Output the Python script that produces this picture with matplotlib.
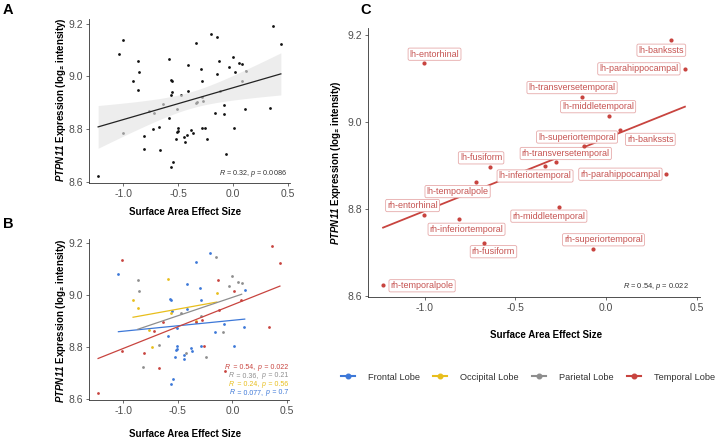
import numpy as np
import matplotlib
matplotlib.use('Agg')
import matplotlib.pyplot as plt
from matplotlib.lines import Line2D
from matplotlib.offsetbox import TextArea, HPacker, AnnotationBbox

plt.rcParams['font.family'] = ['Liberation Sans', 'DejaVu Sans']
plt.rcParams['mathtext.fontset'] = 'custom'
plt.rcParams['mathtext.rm'] = 'Liberation Sans'
plt.rcParams['mathtext.it'] = 'Liberation Sans:italic'
plt.rcParams['mathtext.bf'] = 'Liberation Sans:bold'
plt.rcParams['mathtext.bfit'] = 'Liberation Sans:bold:italic'

# ---------------- data ----------------
temporal_names = ['lh-bankssts', 'lh-entorhinal', 'lh-parahippocampal', 'lh-transversetemporal',
                  'lh-middletemporal', 'rh-bankssts', 'lh-superiortemporal', 'rh-transversetemporal',
                  'lh-inferiortemporal', 'lh-fusiform', 'lh-temporalpole', 'rh-parahippocampal',
                  'rh-entorhinal', 'rh-middletemporal', 'rh-inferiortemporal', 'rh-fusiform',
                  'rh-superiortemporal', 'rh-temporalpole']
temporal_x = [0.360, -1.006, 0.435, -0.132, 0.017, 0.079, -0.121, -0.277, -0.336, -0.639,
              -0.719, 0.333, -1.006, -0.260, -0.813, -0.670, -0.069, -1.229]
temporal_y = [9.189, 9.136, 9.123, 9.059, 9.015, 8.981, 8.945, 8.907, 8.899, 8.897,
              8.863, 8.880, 8.787, 8.804, 8.776, 8.722, 8.708, 8.625]

frontal_x = [-0.204, -0.335, -1.043, -0.412, -0.296, 0.113, -0.567, -0.558, -0.284, -0.415,
             -0.555, -0.509, -0.588, -0.506, -0.503, -0.515, -0.521, -0.381, -0.369, -0.445,
             -0.439, -0.546, -0.561, -0.162, -0.079, 0.110, -0.284, 0.012]
frontal_y = [9.162, 9.127, 9.083, 9.045, 9.027, 9.019, 8.987, 8.981, 8.983, 8.946,
             8.940, 8.876, 8.844, 8.806, 8.795, 8.791, 8.764, 8.796, 8.785, 8.771,
             8.753, 8.677, 8.659, 8.860, 8.890, 8.877, 8.803, 8.804]

occipital_x = [-0.588, -0.143, -0.909, -0.863, -0.564, -0.332, -0.765, -0.732]
occipital_y = [9.064, 9.009, 8.982, 8.950, 8.931, 8.903, 8.868, 8.800]

parietal_x = [-0.149, 0.000, -0.866, 0.055, 0.085, -0.854, -0.034, -0.470, -0.284, -0.674,
              -0.421, -0.814, -0.082, -0.241]
parietal_y = [9.149, 9.073, 9.058, 9.050, 9.047, 9.018, 9.036, 8.931, 8.922, 8.810,
              8.777, 8.724, 8.858, 8.764]

lobe_names = ['Frontal Lobe', 'Occipital Lobe', 'Parietal Lobe', 'Temporal Lobe']
stats_text = {'Temporal Lobe': ('0.54', '0.022'), 'Parietal Lobe': ('0.36', '0.21'),
              'Occipital Lobe': ('0.24', '0.56'), 'Frontal Lobe': ('0.077', '0.7')}
overall_stats = ('0.32', '0.0086')
x_ticks = [-1.0, -0.5, 0.0, 0.5]
y_ticks = [8.6, 8.8, 9.0, 9.2]

# ---------------- style ----------------
colors = {'Frontal Lobe': '#3D78D8', 'Occipital Lobe': '#E8BE1C',
          'Parietal Lobe': '#8E8E8E', 'Temporal Lobe': '#C8443F'}
lobe_data = {'Frontal Lobe': (frontal_x, frontal_y), 'Occipital Lobe': (occipital_x, occipital_y),
             'Parietal Lobe': (parietal_x, parietal_y), 'Temporal Lobe': (temporal_x, temporal_y)}
# ggrepel-like label offsets in pixels (dx right, dy down)
label_offsets = [(-10, 10), (11, -9), (-46, 0), (-10, -9), (-11, -9), (30, 9), (-7, -9), (10, -9),
                 (-10, 10), (-9, -9), (-18, 10), (-46, 0), (-11, -9), (-10, 9), (8, 10), (9, 9),
                 (10, -9), (39, 1)]

W, H = 720, 440
fig = plt.figure(figsize=(7.2, 4.4), dpi=100)


def px_axes(l, t, r, b):
    return fig.add_axes([l / W, 1 - b / H, (r - l) / W, (b - t) / H])


all_x = np.concatenate([np.array(v[0]) for v in lobe_data.values()])
all_y = np.concatenate([np.array(v[1]) for v in lobe_data.values()])
xr = all_x.max() - all_x.min()
yr = all_y.max() - all_y.min()
xlim = (all_x.min() - 0.05 * xr, all_x.max() + 0.05 * xr)
ylim = (all_y.min() - 0.05 * yr, all_y.max() + 0.05 * yr)

TICKC = '#4D4D4D'


def style(ax):
    for s in ['top', 'right']:
        ax.spines[s].set_visible(False)
    for s in ['left', 'bottom']:
        ax.spines[s].set_color('#333333')
        ax.spines[s].set_linewidth(0.6)
    ax.tick_params(length=2.5, width=0.5, color='#333333', labelsize=7.5,
                   labelcolor=TICKC, pad=2)
    ax.set_xlim(xlim)
    ax.set_ylim(ylim)
    ax.set_xticks(x_ticks)
    ax.set_xticklabels(['%.1f' % v for v in x_ticks])
    ax.set_yticks(y_ticks)
    ax.set_yticklabels(['%.1f' % v for v in y_ticks])


def fit(x, y):
    x = np.asarray(x); y = np.asarray(y)
    b, a = np.polyfit(x, y, 1)
    return a, b


def stat_box(r, p, color, size):
    tp = dict(fontsize=size, color=color)
    tpi = dict(fontsize=size, color=color, style='italic')
    parts = [TextArea('R', textprops=tpi), TextArea('\u2009= %s,\u2009' % r, textprops=tp),
             TextArea('p', textprops=tpi), TextArea('\u2009= %s' % p, textprops=tp)]
    return HPacker(children=parts, align='baseline', pad=0, sep=1)


axA = px_axes(89, 19, 290, 183)
axB = px_axes(89, 239, 289, 400)
axC = px_axes(368, 28, 700, 297)
for ax in (axA, axB, axC):
    style(ax)

# ---- Panel A ----
axA.scatter(all_x, all_y, s=4, color='#111111', linewidths=0, zorder=2)
a, b = fit(all_x, all_y)
n = len(all_x)
xs = np.linspace(all_x.min(), all_x.max(), 100)
yh = a + b * xs
resid = all_y - (a + b * all_x)
s_err = np.sqrt(np.sum(resid ** 2) / (n - 2))
sxx = np.sum((all_x - all_x.mean()) ** 2)
se = s_err * np.sqrt(1.0 / n + (xs - all_x.mean()) ** 2 / sxx)
t_val = 1.997
axA.fill_between(xs, yh - t_val * se, yh + t_val * se, color='#E4E4E4', alpha=0.65,
                 linewidth=0, zorder=3)
axA.plot(xs, yh, color='#222222', lw=0.9, zorder=4)
axA.text(0.985, 0.055, r'$R$ = %s, $p$ = %s' % overall_stats, transform=axA.transAxes,
         ha='right', va='center', fontsize=5.2, color='#333333')

# ---- Panel B ----
for name in lobe_names:
    x, y = lobe_data[name]
    axB.scatter(x, y, s=4, color=colors[name], linewidths=0, zorder=2)
for name in lobe_names:
    x, y = lobe_data[name]
    a, b = fit(x, y)
    xx = np.array([min(x), max(x)])
    axB.plot(xx, a + b * xx, color=colors[name], lw=0.9, zorder=3)
order = ['Temporal Lobe', 'Parietal Lobe', 'Occipital Lobe', 'Frontal Lobe']
for i, name in enumerate(order):
    r, p = stats_text[name]
    box = stat_box(r, p, colors[name], 5.0)
    ab = AnnotationBbox(box, (288 / W, 1 - (367 + i * 8.5) / H), xycoords='figure fraction',
                        box_alignment=(1, 0.5), frameon=False, pad=0)
    fig.add_artist(ab)

# ---- Panel C ----
cred = colors['Temporal Lobe']
axC.scatter(temporal_x, temporal_y, s=9, color=cred, linewidths=0, zorder=5)
a, b = fit(temporal_x, temporal_y)
xx = np.array([min(temporal_x), max(temporal_x)])
axC.plot(xx, a + b * xx, color=cred, lw=1.3, zorder=2)
for name, x, y, (dx, dy) in zip(temporal_names, temporal_x, temporal_y, label_offsets):
    axC.annotate(name, (x, y), xytext=(dx, -dy), textcoords='offset pixels',
                 ha='center', va='center', fontsize=6.5, color='#C65452', zorder=4,
                 bbox=dict(boxstyle='round,pad=0.18,rounding_size=0.18', fc='white',
                           ec='#E6AAAA', lw=0.6))
axC.text(0.965, 0.04, r'$R$ = %s, $p$ = %s' % stats_text['Temporal Lobe'],
         transform=axC.transAxes, ha='right', va='center', fontsize=5.4, color='#333333')

# ---- axis titles / labels ----
ylab = r'$\mathbfit{PTPN11}$ Expression (log₂ intensity)'
xt = 'Surface Area Effect Size'
fig.text(185 / W, 1 - 212 / H, xt, ha='center', va='center', fontsize=7, fontweight='bold')
fig.text(185 / W, 1 - 434 / H, xt, ha='center', va='center', fontsize=7, fontweight='bold')
fig.text(546 / W, 1 - 335 / H, xt, ha='center', va='center', fontsize=7, fontweight='bold')
fig.text(61 / W, 1 - 100 / H, ylab, ha='center', va='center', rotation=90, fontsize=7,
         fontweight='bold')
fig.text(61 / W, 1 - 321 / H, ylab, ha='center', va='center', rotation=90, fontsize=7,
         fontweight='bold')
fig.text(336 / W, 1 - 163 / H, ylab, ha='center', va='center', rotation=90, fontsize=7,
         fontweight='bold')

fig.text(3 / W, 1 - 3 / H, 'A', ha='left', va='top', fontsize=10.5, fontweight='bold')
fig.text(3 / W, 1 - 217 / H, 'B', ha='left', va='top', fontsize=10.5, fontweight='bold')
fig.text(360 / W, 1 - 3 / H, 'C', ha='left', va='top', fontsize=10.5, fontweight='bold')

# ---- legend ----
handles = [Line2D([0], [0], color=colors[nm], marker='o', markersize=3.3, lw=1.5)
           for nm in lobe_names]
fig.legend(handles, lobe_names, loc='center', bbox_to_anchor=(528 / W, 1 - 377 / H), ncol=4,
           frameon=False, fontsize=6.7, handlelength=1.5, handletextpad=1.4,
           columnspacing=1.45, labelcolor='#333333', borderpad=0.2, borderaxespad=0.1)

fig.savefig('out.png', dpi=100)
